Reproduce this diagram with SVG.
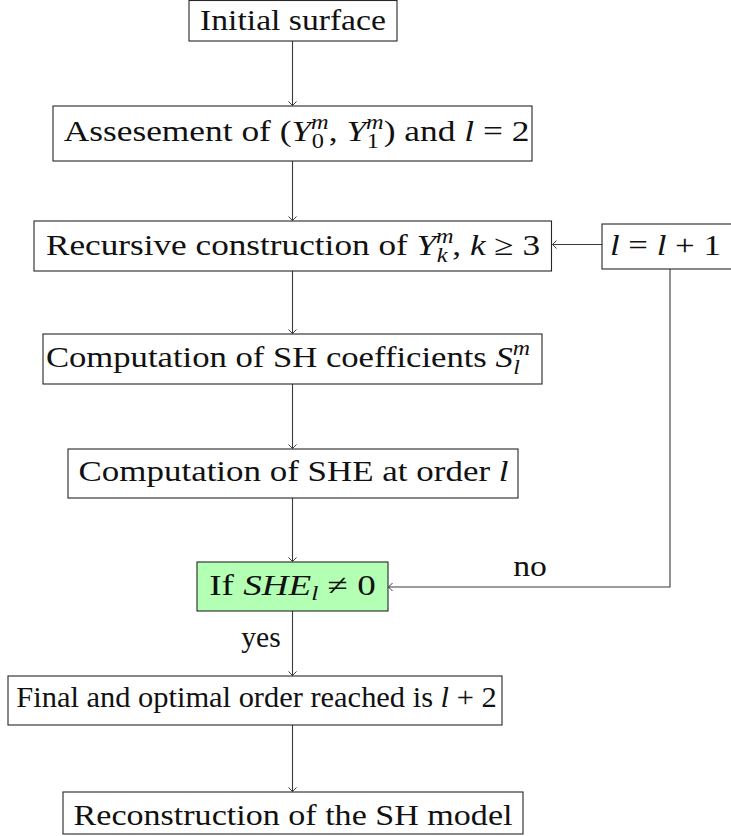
<svg xmlns="http://www.w3.org/2000/svg" width="731" height="836" viewBox="0 0 731 836">
  <style>
    .box { fill: #ffffff; stroke: #262626; stroke-width: 1.1; }
    .hit { fill: #b3ffb3; stroke: #262626; stroke-width: 1.1; }
    .wire { fill: none; stroke: #3a3a3a; stroke-width: 1.1; }
    text { font-family: "Liberation Serif", "Times New Roman", serif; font-size: 29px; fill: #111111; }
    .i { font-style: italic; }
    .s { font-size: 20px; font-style: italic; }
    .n { font-size: 20px; }
  </style>
  <defs>
    <marker id="tip" markerUnits="userSpaceOnUse" markerWidth="10" markerHeight="10" refX="0" refY="0" viewBox="-6 -5 7 10" orient="auto">
      <path d="M-4,-4 Q-1,-0.8 0,0 Q-1,0.8 -4,4" fill="none" stroke="#3a3a3a" stroke-width="1"/>
    </marker>
  </defs>

  <!-- flow connectors -->
  <g id="connectors">
    <path class="wire" d="M292.5,41 V105.5" marker-end="url(#tip)"/>
    <path class="wire" d="M292.5,161 V220.5" marker-end="url(#tip)"/>
    <path class="wire" d="M292.5,271 V333.5" marker-end="url(#tip)"/>
    <path class="wire" d="M292.5,384 V448.5" marker-end="url(#tip)"/>
    <path class="wire" d="M292.5,498 V561.5" marker-end="url(#tip)"/>
    <path class="wire" d="M292.5,611 V675.5" marker-end="url(#tip)"/>
    <path class="wire" d="M292.5,725 V791.5" marker-end="url(#tip)"/>
    <path class="wire" d="M602,244.5 H552.5" marker-end="url(#tip)"/>
    <path class="wire" d="M670,269 V587 H388.5" marker-end="url(#tip)"/>
    <g transform="translate(530,576) scale(1.16,1)"><text text-anchor="middle">no</text></g>
    <g transform="translate(261,647) scale(1.02,1)"><text text-anchor="middle">yes</text></g>
  </g>

  <g id="initial">
    <rect class="box" x="189" y="0.5" width="208" height="40.5"/>
    <g transform="translate(293,29.5) scale(1.16,1)">
      <text text-anchor="middle">Initial surface</text>
    </g>
  </g>

  <g id="assessment">
    <rect class="box" x="53" y="106" width="479" height="55"/>
    <g transform="translate(296.5,141) scale(1.22,1)">
      <text text-anchor="middle">Assesement of (<tspan class="i">Y</tspan><tspan class="s" dy="-12">m</tspan><tspan class="n" dx="-14" dy="19">0</tspan><tspan dx="4" dy="-7">, </tspan><tspan class="i">Y</tspan><tspan class="s" dy="-12">m</tspan><tspan class="n" dx="-14" dy="19">1</tspan><tspan dx="4" dy="-7">) and </tspan><tspan class="i">l</tspan> = 2</text>
    </g>
  </g>

  <g id="recursion">
    <rect class="box" x="34" y="221" width="517.5" height="50"/>
    <g transform="translate(293,254.5) scale(1.215,1)">
      <text text-anchor="middle">Recursive construction of <tspan class="i">Y</tspan><tspan class="s" dy="-12">m</tspan><tspan class="s" dx="-14" dy="19">k</tspan><tspan dx="4" dy="-7">, </tspan><tspan class="i">k</tspan> ≥ 3</text>
    </g>
  </g>

  <g id="increment">
    <rect class="box" x="602" y="224" width="140" height="45"/>
    <g transform="translate(610,255) scale(1.2,1)">
      <text><tspan class="i">l</tspan> = <tspan class="i">l</tspan> + 1</text>
    </g>
  </g>

  <g id="coefficients">
    <rect class="box" x="43" y="334" width="499" height="50"/>
    <g transform="translate(288,366.5) scale(1.195,1)">
      <text text-anchor="middle">Computation of SH coefficients <tspan class="i">S</tspan><tspan class="s" dy="-12">m</tspan><tspan class="s" dx="-14" dy="19">l</tspan></text>
    </g>
  </g>

  <g id="she">
    <rect class="box" x="68" y="449" width="450" height="49"/>
    <g transform="translate(293.5,480.5) scale(1.205,1)">
      <text text-anchor="middle">Computation of SHE at order <tspan class="i">l</tspan></text>
    </g>
  </g>

  <g id="test">
    <rect class="hit" x="197" y="562" width="191" height="49"/>
    <g transform="translate(292.5,595) scale(1.28,1)">
      <text text-anchor="middle">If <tspan class="i">SHE</tspan><tspan class="s" dy="5">l</tspan><tspan dy="-5"> ≠ 0</tspan></text>
    </g>
  </g>

  <g id="final">
    <rect class="box" x="8" y="676" width="494" height="49"/>
    <g transform="translate(256.5,706.5) scale(1.05,1)">
      <text text-anchor="middle">Final and optimal order reached is <tspan class="i">l</tspan> + 2</text>
    </g>
  </g>

  <g id="model">
    <rect class="box" x="63" y="792" width="460" height="42"/>
    <g transform="translate(293,825) scale(1.175,1)">
      <text text-anchor="middle">Reconstruction of the SH model</text>
    </g>
  </g>
</svg>
